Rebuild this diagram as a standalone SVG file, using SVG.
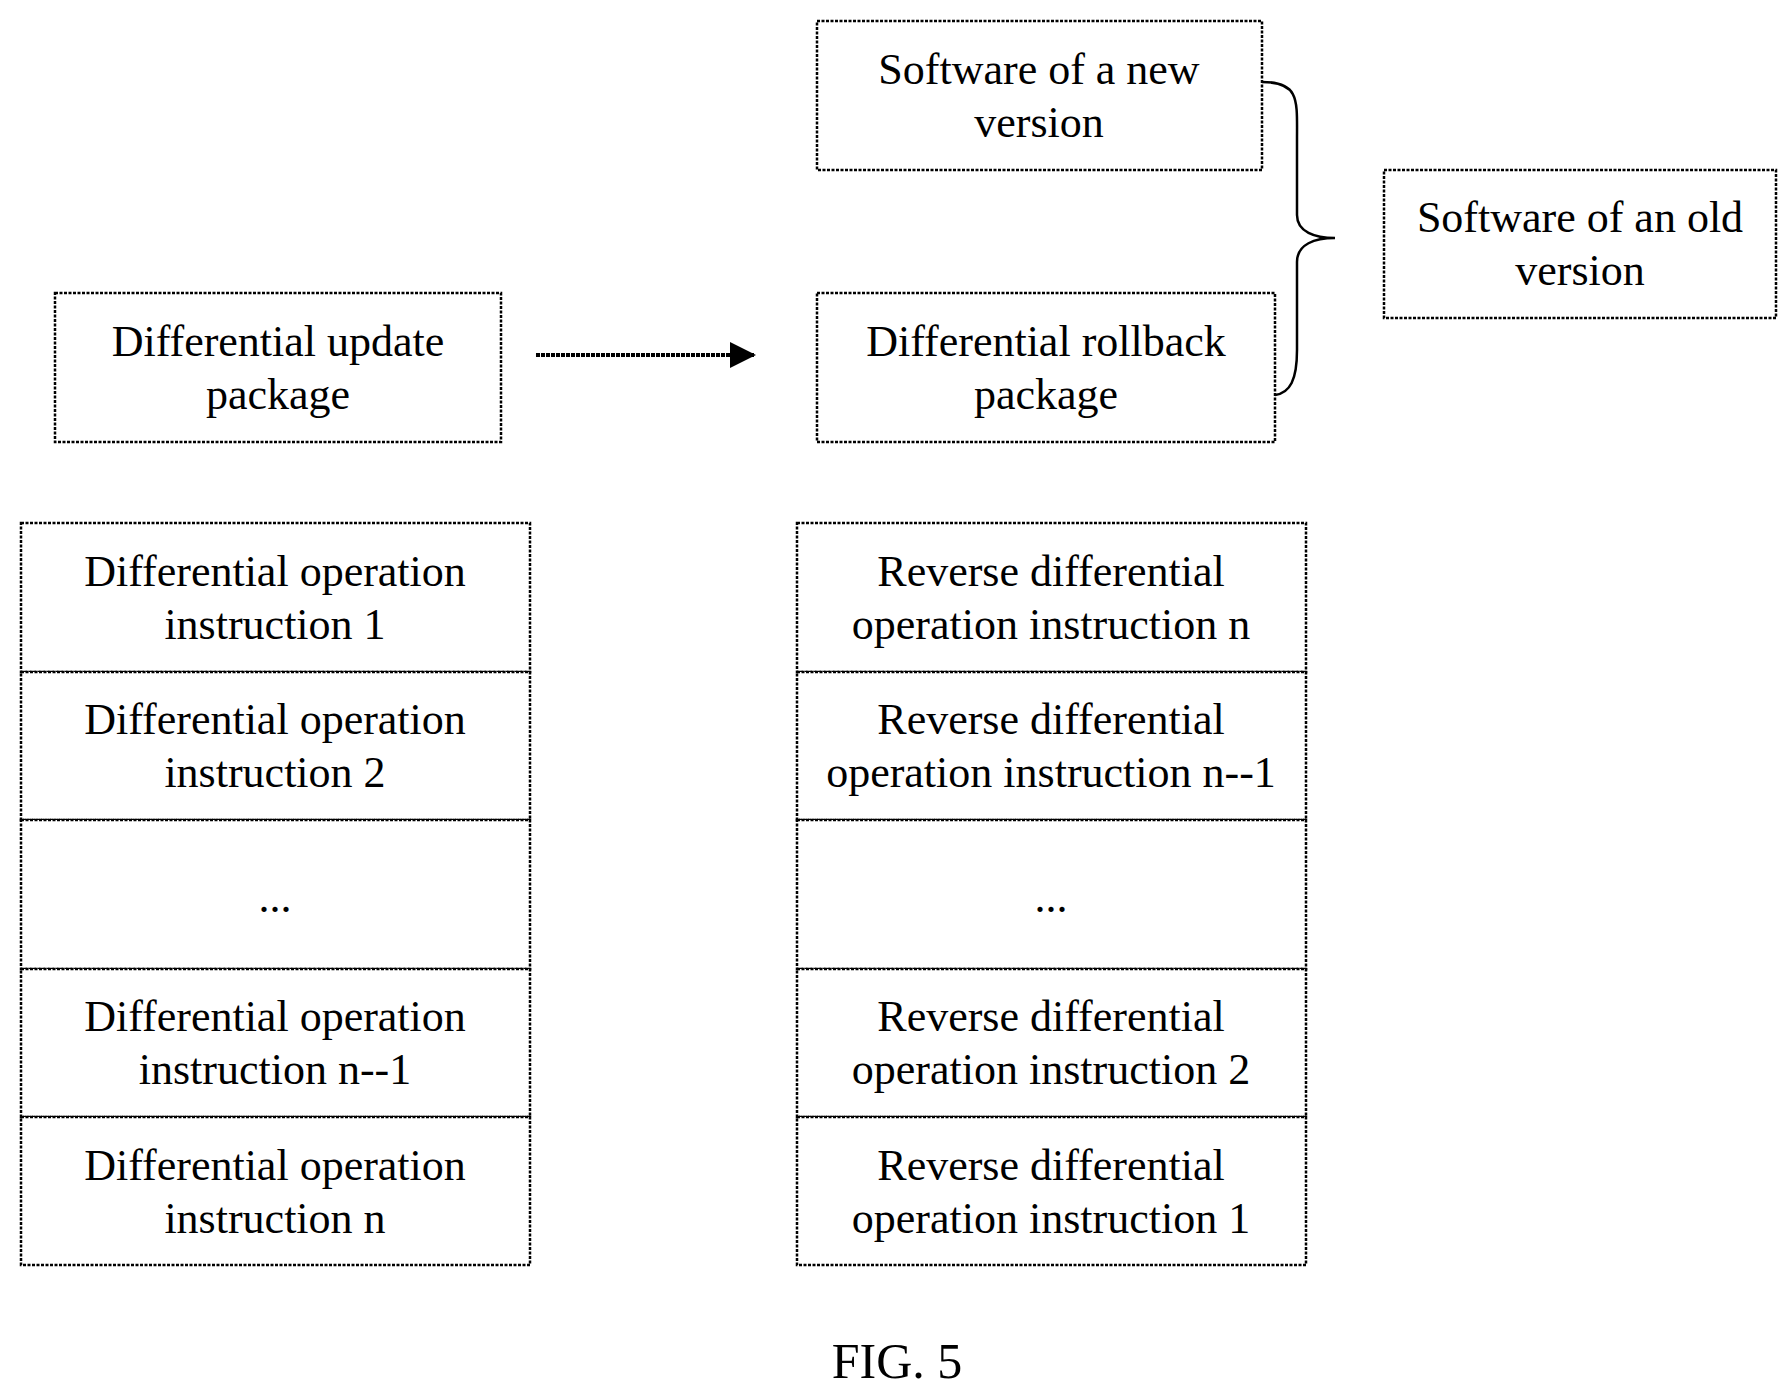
<svg xmlns="http://www.w3.org/2000/svg" width="1787" height="1395" viewBox="0 0 1787 1395">
<style>
.b{fill:#fff;stroke:#000;stroke-width:2.5;stroke-dasharray:3 1.5}
text{font-family:"Liberation Serif","Times New Roman",serif;font-size:44px;text-anchor:middle;fill:#000}
</style>
<defs><marker id="ah" markerWidth="10" markerHeight="10" refX="9" refY="5" orient="auto" markerUnits="userSpaceOnUse" viewBox="0 0 10 10"><path d="M0,0 L10,5 L0,10 z" fill="#000"/></marker>
<marker id="a2" markerWidth="26" markerHeight="26" refX="24" refY="13" orient="auto" markerUnits="userSpaceOnUse"><path d="M0,0 L26,13 L0,26 z" fill="#000"/></marker></defs>
<rect width="1787" height="1395" fill="#fff"/>
<g id="new"><rect class="b" x="817" y="21" width="445" height="149"/><text x="1039" y="84">Software of a new</text><text x="1039" y="137">version</text></g>
<g id="rollback"><rect class="b" x="817" y="293" width="458" height="149"/><text x="1046" y="356">Differential rollback</text><text x="1046" y="409">package</text></g>
<g id="update"><rect class="b" x="55" y="293" width="446" height="149"/><text x="278" y="356">Differential update</text><text x="278" y="409">package</text></g>
<g id="old"><rect class="b" x="1384" y="170" width="392" height="148"/><text x="1580" y="232">Software of an old</text><text x="1580" y="285">version</text></g>
<g id="left">
<rect class="b" x="21" y="523" width="509" height="149"/><text x="275" y="586">Differential operation</text><text x="275" y="639">instruction 1</text>
<rect class="b" x="21" y="672" width="509" height="148"/><text x="275" y="734">Differential operation</text><text x="275" y="787">instruction 2</text>
<rect class="b" x="21" y="820" width="509" height="149"/><text x="275" y="912">...</text>
<rect class="b" x="21" y="969" width="509" height="148"/><text x="275" y="1031">Differential operation</text><text x="275" y="1084">instruction n--1</text>
<rect class="b" x="21" y="1117" width="509" height="148"/><text x="275" y="1180">Differential operation</text><text x="275" y="1233">instruction n</text>
</g>
<g id="right">
<rect class="b" x="797" y="523" width="509" height="149"/><text x="1051" y="586">Reverse differential</text><text x="1051" y="639">operation instruction n</text>
<rect class="b" x="797" y="672" width="509" height="148"/><text x="1051" y="734">Reverse differential</text><text x="1051" y="787">operation instruction n--1</text>
<rect class="b" x="797" y="820" width="509" height="149"/><text x="1051" y="912">...</text>
<rect class="b" x="797" y="969" width="509" height="148"/><text x="1051" y="1031">Reverse differential</text><text x="1051" y="1084">operation instruction 2</text>
<rect class="b" x="797" y="1117" width="509" height="148"/><text x="1051" y="1180">Reverse differential</text><text x="1051" y="1233">operation instruction 1</text>
</g>
<g id="connectors" fill="none" stroke="#000" stroke-width="4">
<line x1="536" y1="355" x2="754" y2="355" stroke-dasharray="4 1" marker-end="url(#a2)"/>
<path stroke-width="2.5" d="M1262,82 C1300,82 1297,100 1297,140 L1297,215 C1297,232 1315,238 1335,238 C1315,238 1297,244 1297,262 L1297,350 C1297,380 1290,393 1275,395"/>
</g>
<text x="897" y="1378" style="font-size:50px">FIG. 5</text>
</svg>
